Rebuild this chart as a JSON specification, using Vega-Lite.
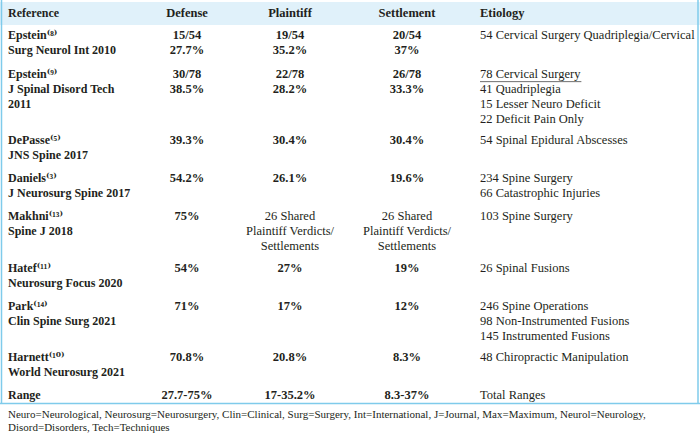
{
  "$schema": "https://vega.github.io/schema/vega-lite/v6.json",
  "width": 700,
  "height": 436,
  "autosize": {"type": "none"},
  "padding": 0,
  "background": "white",
  "config": {"view": {"stroke": null}},
  "datasets": {
    "cells": [
      {"row": 0, "col": 1, "text": "Reference"},
      {"row": 0, "col": 2, "text": "Defense"},
      {"row": 0, "col": 3, "text": "Plaintiff"},
      {"row": 0, "col": 4, "text": "Settlement"},
      {"row": 0, "col": 5, "text": "Etiology"},
      {"row": 1, "col": 1, "text": "Epstein⁽⁸⁾\nSurg Neurol Int 2010"},
      {"row": 1, "col": 2, "text": "15/54\n27.7%"},
      {"row": 1, "col": 3, "text": "19/54\n35.2%"},
      {"row": 1, "col": 4, "text": "20/54\n37%"},
      {"row": 1, "col": 5, "text": "54 Cervical Surgery Quadriplegia/Cervical"},
      {"row": 2, "col": 1, "text": "Epstein⁽⁹⁾\nJ Spinal Disord Tech\n2011"},
      {"row": 2, "col": 2, "text": "30/78\n38.5%"},
      {"row": 2, "col": 3, "text": "22/78\n28.2%"},
      {"row": 2, "col": 4, "text": "26/78\n33.3%"},
      {"row": 2, "col": 5, "text": "78 Cervical Surgery\n41 Quadriplegia\n15 Lesser Neuro Deficit\n22 Deficit Pain Only"},
      {"row": 3, "col": 1, "text": "DePasse⁽⁵⁾\nJNS Spine 2017"},
      {"row": 3, "col": 2, "text": "39.3%"},
      {"row": 3, "col": 3, "text": "30.4%"},
      {"row": 3, "col": 4, "text": "30.4%"},
      {"row": 3, "col": 5, "text": "54 Spinal Epidural Abscesses"},
      {"row": 4, "col": 1, "text": "Daniels⁽³⁾\nJ Neurosurg Spine 2017"},
      {"row": 4, "col": 2, "text": "54.2%"},
      {"row": 4, "col": 3, "text": "26.1%"},
      {"row": 4, "col": 4, "text": "19.6%"},
      {"row": 4, "col": 5, "text": "234 Spine Surgery\n66 Catastrophic Injuries"},
      {"row": 5, "col": 1, "text": "Makhni⁽¹³⁾\nSpine J 2018"},
      {"row": 5, "col": 2, "text": "75%"},
      {"row": 5, "col": 3, "text": "26 Shared\nPlaintiff Verdicts/\nSettlements"},
      {"row": 5, "col": 4, "text": "26 Shared\nPlaintiff Verdicts/\nSettlements"},
      {"row": 5, "col": 5, "text": "103 Spine Surgery"},
      {"row": 6, "col": 1, "text": "Hatef⁽¹¹⁾\nNeurosurg Focus 2020"},
      {"row": 6, "col": 2, "text": "54%"},
      {"row": 6, "col": 3, "text": "27%"},
      {"row": 6, "col": 4, "text": "19%"},
      {"row": 6, "col": 5, "text": "26 Spinal Fusions"},
      {"row": 7, "col": 1, "text": "Park⁽¹⁴⁾\nClin Spine Surg 2021"},
      {"row": 7, "col": 2, "text": "71%"},
      {"row": 7, "col": 3, "text": "17%"},
      {"row": 7, "col": 4, "text": "12%"},
      {"row": 7, "col": 5, "text": "246 Spine Operations\n98 Non-Instrumented Fusions\n145 Instrumented Fusions"},
      {"row": 8, "col": 1, "text": "Harnett⁽¹⁰⁾\nWorld Neurosurg 2021"},
      {"row": 8, "col": 2, "text": "70.8%"},
      {"row": 8, "col": 3, "text": "20.8%"},
      {"row": 8, "col": 4, "text": "8.3%"},
      {"row": 8, "col": 5, "text": "48 Chiropractic Manipulation"},
      {"row": 9, "col": 1, "text": "Range"},
      {"row": 9, "col": 2, "text": "27.7-75%"},
      {"row": 9, "col": 3, "text": "17-35.2%"},
      {"row": 9, "col": 4, "text": "8.3-37%"},
      {"row": 9, "col": 5, "text": "Total Ranges"},
      {"row": 10, "col": 1, "text": "Neuro=Neurological, Neurosurg=Neurosurgery, Clin=Clinical, Surg=Surgery, Int=International, J=Journal, Max=Maximum, Neurol=Neurology,\nDisord=Disorders, Tech=Techniques"}
    ]
  },
  "layer": [
    {
      "data": {"values": [{"part": "header"}]},
      "mark": {"type": "rect", "color": "#e0f1fa"},
      "encoding": {
        "y": {"datum": -0.5, "type": "quantitative", "axis": null,
          "scale": {"domain": [-0.5, 0, 0.5, 1, 2, 3, 4, 5, 6, 7, 8, 9, 9.5, 10],
                    "range": [2, 17, 25, 39, 78, 144, 182, 220, 272, 310, 361, 399, 403.5, 418],
                    "nice": false, "zero": false}},
        "y2": {"datum": 0.5}
      }
    },
    {
      "data": {"values": [{"edge": 0}, {"edge": 6}]},
      "mark": {"type": "rule", "color": "#7fcbeb", "strokeWidth": 1.5},
      "encoding": {
        "x": {"field": "edge", "type": "quantitative", "axis": null,
          "scale": {"domain": [0, 1, 2, 3, 4, 5, 6], "range": [1.5, 8, 187, 290, 407, 480, 698], "nice": false, "zero": false}},
        "y": {"datum": -0.57, "type": "quantitative"},
        "y2": {"datum": 9.5}
      }
    },
    {
      "data": {"values": [{"part": "bottom"}]},
      "mark": {"type": "rule", "color": "#7fcbeb", "strokeWidth": 1.5},
      "encoding": {
        "y": {"datum": 9.5, "type": "quantitative"}
      }
    },
    {
      "data": {"values": [{"part": "underline"}]},
      "mark": {"type": "rule", "color": "#4a4a4a", "strokeWidth": 0.8},
      "encoding": {
        "x": {"datum": 5, "type": "quantitative"},
        "x2": {"datum": 5.465},
        "y": {"datum": 2.055, "type": "quantitative"}
      }
    },
    {
      "data": {"name": "cells"},
      "transform": [{"filter": "datum.col == 1 && datum.row <= 9"}],
      "mark": {"type": "text", "align": "left", "baseline": "alphabetic", "font": "Liberation Serif, DejaVu Serif", "fontSize": 12, "fontWeight": "bold", "color": "#231f20", "lineBreak": "\n", "lineHeight": 15},
      "encoding": {
        "x": {"field": "col", "type": "quantitative"},
        "y": {"field": "row", "type": "quantitative"},
        "text": {"field": "text"}
      }
    },
    {
      "data": {"name": "cells"},
      "transform": [{"filter": "datum.col >= 2 && datum.col <= 4 && indexof(datum.text, 'Shared') < 0"}],
      "mark": {"type": "text", "align": "center", "baseline": "alphabetic", "font": "Liberation Serif", "fontSize": 12.5, "fontWeight": "bold", "color": "#231f20", "lineBreak": "\n", "lineHeight": 15},
      "encoding": {
        "x": {"field": "col", "type": "quantitative"},
        "y": {"field": "row", "type": "quantitative"},
        "text": {"field": "text"}
      }
    },
    {
      "data": {"name": "cells"},
      "transform": [{"filter": "datum.col >= 2 && datum.col <= 4 && indexof(datum.text, 'Shared') >= 0"}],
      "mark": {"type": "text", "align": "center", "baseline": "alphabetic", "font": "Liberation Serif", "fontSize": 12.5, "color": "#231f20", "lineBreak": "\n", "lineHeight": 15},
      "encoding": {
        "x": {"field": "col", "type": "quantitative"},
        "y": {"field": "row", "type": "quantitative"},
        "text": {"field": "text"}
      }
    },
    {
      "data": {"name": "cells"},
      "transform": [{"filter": "datum.col == 5 && datum.row == 0"}],
      "mark": {"type": "text", "align": "left", "baseline": "alphabetic", "font": "Liberation Serif", "fontSize": 12.5, "fontWeight": "bold", "color": "#231f20"},
      "encoding": {
        "x": {"field": "col", "type": "quantitative"},
        "y": {"field": "row", "type": "quantitative"},
        "text": {"field": "text"}
      }
    },
    {
      "data": {"name": "cells"},
      "transform": [{"filter": "datum.col == 5 && datum.row >= 1"}],
      "mark": {"type": "text", "align": "left", "baseline": "alphabetic", "font": "Liberation Serif", "fontSize": 12.5, "color": "#231f20", "lineBreak": "\n", "lineHeight": 15},
      "encoding": {
        "x": {"field": "col", "type": "quantitative"},
        "y": {"field": "row", "type": "quantitative"},
        "text": {"field": "text"}
      }
    },
    {
      "data": {"name": "cells"},
      "transform": [{"filter": "datum.row == 10"}],
      "mark": {"type": "text", "align": "left", "baseline": "alphabetic", "font": "Liberation Serif", "fontSize": 11, "color": "#231f20", "lineBreak": "\n", "lineHeight": 13},
      "encoding": {
        "x": {"field": "col", "type": "quantitative"},
        "y": {"field": "row", "type": "quantitative"},
        "text": {"field": "text"}
      }
    }
  ]
}
